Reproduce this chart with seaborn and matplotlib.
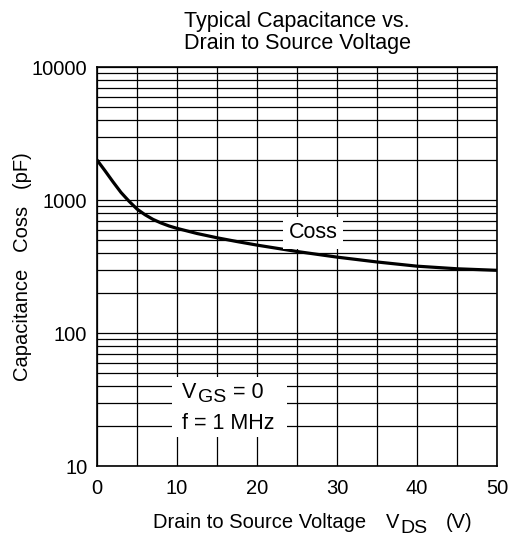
import matplotlib
matplotlib.use("Agg")
import matplotlib.pyplot as plt
from matplotlib.patches import Rectangle
import pandas as pd
import seaborn as sns

# Curve
vds = [0, 1, 2, 3, 4, 5, 6, 7, 8, 9, 10, 12.5, 15, 17.5, 20, 25, 30, 35, 40, 45, 50]
coss = [2000, 1660, 1370, 1140, 980, 855, 775, 715, 672, 638, 612,
        560, 520, 487, 458, 410, 372, 342, 318, 304, 296]

x_ticks = [0, 10, 20, 30, 40, 50]
y_ticks = [10, 100, 1000, 10000]

df = pd.DataFrame({"vds": vds, "coss": coss})

sns.set_theme(style="white")
plt.rcParams['font.family'] = ['Liberation Sans', 'DejaVu Sans']

fs = 14.5      # ticks / axis labels
fs_t = 15.5    # title
fs_a = 15.5    # notes inside the plot

fig = plt.figure(figsize=(5.2, 5.43), dpi=100)
ax = fig.add_axes([0.1865, 0.1418, 0.7695, 0.7348])

sns.lineplot(data=df, x="vds", y="coss", ax=ax, color="black", linewidth=2.3)

ax.set_yscale("log")
ax.set_xlim(0, 50)
ax.set_ylim(10, 10000)

# grid: every 5 V, log minor lines
ax.set_xticks(range(0, 51, 5), minor=True)
ax.set_xticks(x_ticks)
ax.set_yticks(y_ticks)
ax.set_yticklabels([str(t) for t in y_ticks])
ax.grid(which="both", color="black", linewidth=0.9)
ax.tick_params(which="both", length=0, labelsize=fs, colors="black")
ax.tick_params(axis="x", pad=9)
ax.tick_params(axis="y", pad=7)
for s in ax.spines.values():
    s.set_color("black")
    s.set_linewidth(1.2)

ax.set_title("Typical Capacitance vs.\nDrain to Source Voltage", fontsize=fs_t, color="black",
             pad=13, linespacing=1.05)
ax.set_xlabel("")
ax.set_ylabel("Capacitance   Coss   (pF)", fontsize=fs, color="black", labelpad=0)

# x label built in pieces so the DS subscript stays full size
lab = fig.text(153 / 520, 1 - 522 / 543, "Drain to Source Voltage", fontsize=fs,
               color="black", ha="left", va="center")
v1 = ax.annotate("V", xy=(1, 0), xycoords=lab, xytext=(14, 0), textcoords="offset points",
                 fontsize=fs, color="black", ha="left", va="bottom")
ds = ax.annotate("DS", xy=(1, 0), xycoords=v1, xytext=(1, -4), textcoords="offset points",
                 fontsize=fs - 0.5, color="black", ha="left", va="bottom")
ax.annotate("(V)", xy=(1, 0), xycoords=ds, xytext=(13, 4), textcoords="offset points",
            fontsize=fs, color="black", ha="left", va="bottom")

box = dict(facecolor="white", edgecolor="none", pad=4)
ax.text(27, 568, "Coss", ha="center", va="center", fontsize=fs_a, color="black", bbox=box, zorder=5)

# white panel behind the test conditions
ax.add_patch(Rectangle((0.1875, 0.073), 0.2875, 0.15, transform=ax.transAxes,
                       facecolor="white", edgecolor="none", zorder=4))
vg = ax.text(10.6, 36.0, "V", ha="left", va="center", fontsize=fs_a, color="black", zorder=6)
gs = ax.annotate("GS", xy=(1, 0), xycoords=vg, xytext=(1, -2.5), textcoords="offset points",
                 fontsize=fs_a - 1.5, color="black", ha="left", va="bottom", zorder=6)
ax.annotate("= 0", xy=(1, 0), xycoords=gs, xytext=(5, 2.5), textcoords="offset points",
            fontsize=fs_a, color="black", ha="left", va="bottom", zorder=6)
ax.text(10.6, 20.7, "f = 1 MHz", ha="left", va="center", fontsize=fs_a, color="black", zorder=6)

fig.savefig("out.png", dpi=100)
